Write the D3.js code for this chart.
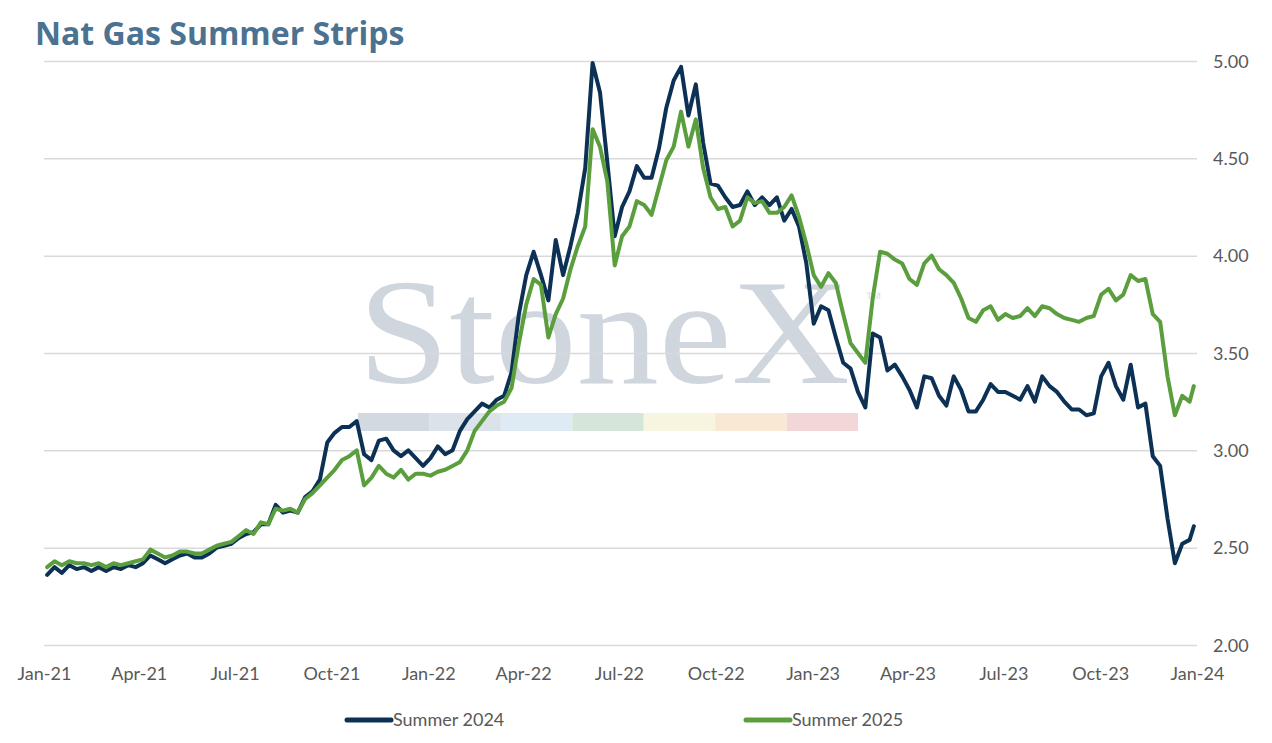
<!DOCTYPE html>
<html>
<head>
<meta charset="utf-8">
<script src="https://cdn.jsdelivr.net/npm/d3@7"></script>
<style>
  body { margin: 0; background: #fff; }
  svg { display: block; }
</style>
</head>
<body>
<svg id="chart" width="1272" height="743"></svg>
<script>
// weekly closes, first week starts 2021-01-04, last point 2023-12-29
var firstWeek = "2021-01-04";
var lastDay = "2023-12-29";

var summer2024 = [
  2.36, 2.40, 2.37, 2.41, 2.39, 2.40, 2.38, 2.40, 2.38, 2.40, 2.39, 2.41, 2.40,
  2.42, 2.46, 2.44, 2.42, 2.44, 2.46, 2.47, 2.45, 2.45, 2.47, 2.50, 2.51, 2.52,
  2.55, 2.57, 2.58, 2.62, 2.62, 2.72, 2.68, 2.69, 2.68, 2.76, 2.79, 2.85, 3.04,
  3.09, 3.12, 3.12, 3.15, 2.98, 2.95, 3.05, 3.06, 3.00, 2.97, 3.00, 2.96, 2.92,
  2.96, 3.02, 2.98, 3.00, 3.10, 3.16, 3.20, 3.24, 3.22, 3.26, 3.28, 3.40, 3.70,
  3.90, 4.02, 3.90, 3.77, 4.08, 3.90, 4.05, 4.22,
  4.45, 4.99, 4.84, 4.48, 4.10, 4.25, 4.33, 4.46, 4.40, 4.40, 4.55, 4.76, 4.90,
  4.97, 4.72, 4.88, 4.58, 4.37, 4.36, 4.30, 4.25, 4.26, 4.33, 4.26, 4.30, 4.26,
  4.30, 4.18, 4.24, 4.15, 3.96, 3.65, 3.74, 3.72, 3.58,
  3.45, 3.42, 3.30, 3.22, 3.60, 3.58, 3.41, 3.44, 3.38, 3.31, 3.22, 3.38, 3.37,
  3.28, 3.23, 3.38, 3.31, 3.20, 3.20, 3.26, 3.34, 3.30, 3.30, 3.28, 3.26, 3.33,
  3.25, 3.38, 3.33, 3.30, 3.25, 3.21, 3.21, 3.18, 3.19, 3.38, 3.45, 3.33, 3.26,
  3.44, 3.22, 3.24, 2.97, 2.92, 2.65, 2.42, 2.52, 2.54,
  2.61
];

var summer2025 = [
  2.40, 2.43, 2.41, 2.43, 2.42, 2.42, 2.41, 2.42, 2.40, 2.42, 2.41, 2.42, 2.43,
  2.44, 2.49, 2.47, 2.45, 2.46, 2.48, 2.48, 2.47, 2.47, 2.49, 2.51, 2.52, 2.53,
  2.56, 2.59, 2.57, 2.63, 2.62, 2.70, 2.69, 2.70, 2.68, 2.75, 2.78, 2.82, 2.86,
  2.90, 2.95, 2.97, 3.00, 2.82, 2.86, 2.92, 2.88, 2.86, 2.90, 2.85, 2.88, 2.88,
  2.87, 2.89, 2.90, 2.92, 2.94, 3.00, 3.10, 3.15, 3.20, 3.23, 3.25, 3.32, 3.55,
  3.75, 3.88, 3.85, 3.58, 3.70, 3.78, 3.93, 4.05,
  4.15, 4.65, 4.56, 4.38, 3.95, 4.10, 4.15, 4.28, 4.26, 4.21, 4.35, 4.49, 4.56,
  4.74, 4.56, 4.70, 4.45, 4.30, 4.24, 4.25, 4.15, 4.18, 4.30, 4.27, 4.28, 4.22,
  4.22, 4.25, 4.31, 4.20, 4.06, 3.90, 3.84, 3.91, 3.86,
  3.70, 3.55, 3.50, 3.45, 3.78, 4.02, 4.01, 3.98, 3.96, 3.88, 3.85, 3.96, 4.00,
  3.93, 3.90, 3.86, 3.78, 3.68, 3.66, 3.72, 3.74, 3.67, 3.70, 3.68, 3.69, 3.73,
  3.69, 3.74, 3.73, 3.70, 3.68, 3.67, 3.66, 3.68, 3.69, 3.80, 3.83, 3.77, 3.80,
  3.90, 3.87, 3.88, 3.70, 3.66, 3.38, 3.18, 3.28, 3.25,
  3.33
];

var xTicks = ["2021-01-01", "2021-04-01", "2021-07-01", "2021-10-01",
  "2022-01-01", "2022-04-01", "2022-07-01", "2022-10-01",
  "2023-01-01", "2023-04-01", "2023-07-01", "2023-10-01", "2024-01-01"];
var yTicks = [2.0, 2.5, 3.0, 3.5, 4.0, 4.5, 5.0];

var seriesNames = ["Summer 2024", "Summer 2025"];
var seriesColors = ["#0c3155", "#5b9e3d"];

var parse = d3.timeParse("%Y-%m-%d");
var start = parse(firstWeek);
var dates = summer2024.map(function (v, i) {
  return i < summer2024.length - 1 ? d3.timeDay.offset(start, 7 * i) : parse(lastDay);
});

var svg = d3.select("#chart");
var plotLeft = 44, plotRight = 1197, plotTop = 61, plotBottom = 645;

var x = d3.scaleTime()
  .domain([parse(xTicks[0]), parse(xTicks[xTicks.length - 1])])
  .range([plotLeft, plotRight]);
var y = d3.scaleLinear().domain([2, 5]).range([plotBottom, plotTop]);

// title
svg.append("text")
  .attr("x", 35).attr("y", 45)
  .attr("font-family", "Open Sans, sans-serif")
  .attr("font-weight", 700)
  .attr("font-size", 32)
  .attr("fill", "#4b7391")
  .text("Nat Gas Summer Strips");

// watermark
var wm = svg.append("g");
wm.append("text")
  .attr("x", 358).attr("y", 383)
  .attr("font-family", "Liberation Serif, serif")
  .attr("font-size", 150)
  .attr("textLength", 492)
  .attr("lengthAdjust", "spacingAndGlyphs")
  .attr("fill", "#cfd6de")
  .text("StoneX");
wm.append("text")
  .attr("x", 865).attr("y", 304)
  .attr("font-family", "Liberation Sans, sans-serif")
  .attr("font-size", 17)
  .attr("fill", "#dde2e8")
  .text("\u2122");
var bandColors = ["#d3d9e1", "#dbe2ea", "#deeaf4", "#d5e5da", "#f7f5df", "#f9e8d4", "#f3d6d8"];
var bandX = d3.scaleLinear().domain([0, bandColors.length]).range([358, 858]);
wm.selectAll("rect").data(bandColors).enter().append("rect")
  .attr("x", function (d, i) { return bandX(i); })
  .attr("y", 413)
  .attr("width", bandX(1) - bandX(0))
  .attr("height", 18)
  .attr("fill", function (d) { return d; });

// gridlines + right axis labels
var yAxis = d3.axisRight(y).tickValues(yTicks)
  .tickSize(plotRight - plotLeft)
  .tickFormat(d3.format(".2f"));
svg.append("g")
  .attr("transform", "translate(" + plotLeft + ",0)")
  .call(yAxis)
  .call(function (g) {
    g.select(".domain").remove();
    g.selectAll(".tick line").attr("stroke", "#d9d9d9").attr("stroke-width", 1.5);
    g.selectAll(".tick text")
      .attr("x", plotRight - plotLeft + 16)
      .attr("dy", "0.34em")
      .attr("font-family", "Lato, sans-serif")
      .attr("font-size", 18)
      .attr("fill", "#595959");
  });

// x axis labels
var xAxis = d3.axisBottom(x)
  .tickValues(xTicks.map(parse))
  .tickSize(0)
  .tickFormat(d3.timeFormat("%b-%y"));
svg.append("g")
  .attr("transform", "translate(0," + plotBottom + ")")
  .call(xAxis)
  .call(function (g) {
    g.select(".domain").remove();
    g.selectAll(".tick text")
      .attr("y", 29)
      .attr("dy", "0.34em")
      .attr("font-family", "Lato, sans-serif")
      .attr("font-size", 18)
      .attr("fill", "#595959");
  });

// lines
var line = d3.line()
  .x(function (d, i) { return x(dates[i]); })
  .y(function (d) { return y(d); });

[summer2024, summer2025].forEach(function (s, k) {
  svg.append("path")
    .datum(s)
    .attr("d", line)
    .attr("fill", "none")
    .attr("stroke", seriesColors[k])
    .attr("stroke-width", 4)
    .attr("stroke-linejoin", "round")
    .attr("stroke-linecap", "round");
});

// legend
var legendX = [347, 746];
seriesNames.forEach(function (name, k) {
  var g = svg.append("g").attr("transform", "translate(" + legendX[k] + ",720)");
  g.append("line")
    .attr("x1", 0).attr("x2", 44)
    .attr("stroke", seriesColors[k])
    .attr("stroke-width", 5)
    .attr("stroke-linecap", "round");
  g.append("text")
    .attr("x", 46).attr("dy", "0.34em")
    .attr("font-family", "Lato, sans-serif")
    .attr("font-size", 18)
    .attr("fill", "#595959")
    .text(name);
});
</script>
</body>
</html>
